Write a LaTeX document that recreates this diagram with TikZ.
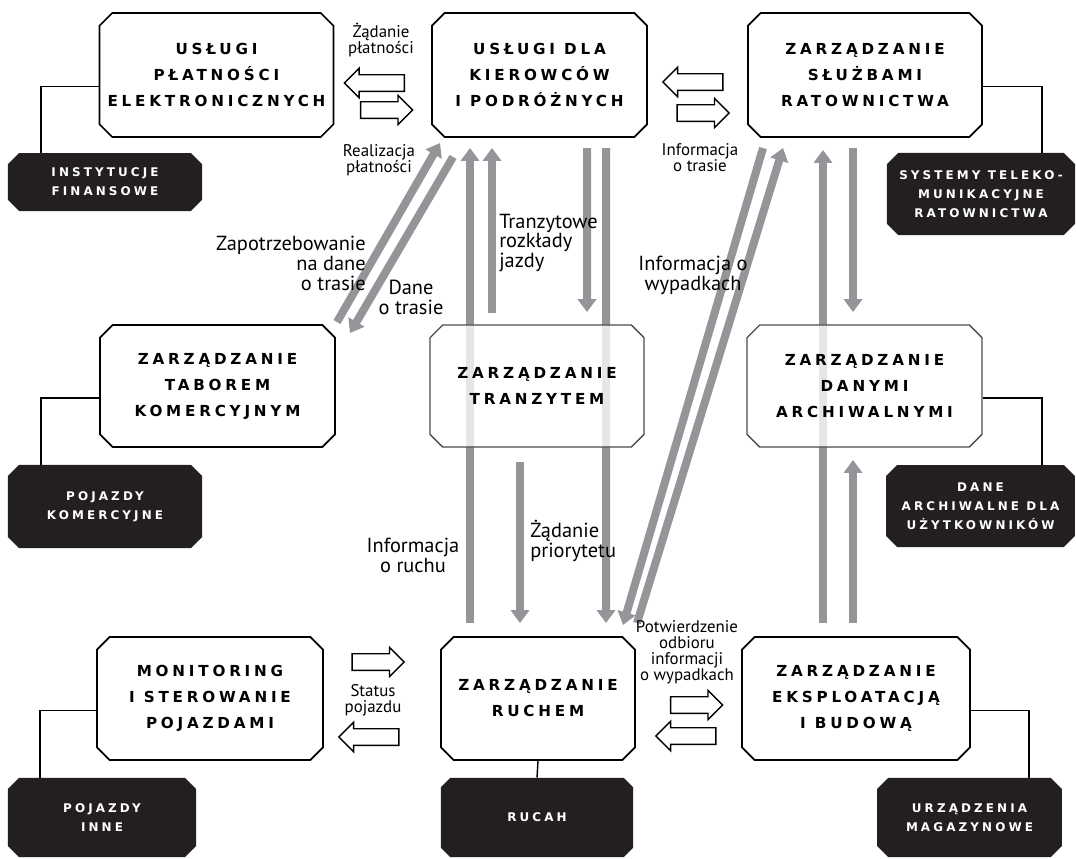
\documentclass[tikz,border=0pt]{standalone}
\usepackage{fontspec}
\setmainfont{PT Sans}
\newfontfamily\boxfont[LetterSpace=25]{DejaVu Sans}
\newfontfamily\tabfont[LetterSpace=26]{DejaVu Sans}
\usetikzlibrary{shapes,arrows.meta,positioning,calc,backgrounds}
\definecolor{flowgray}{RGB}{147,149,152}
\definecolor{tabblack}{RGB}{35,31,32}
\tikzstyle{box} = [chamfered rectangle, chamfered rectangle xsep=0.2cm, draw=black, line width=1.2pt, fill=white, align=center, inner sep=0pt, font=\boxfont\bfseries\fontsize{10.8}{18.5}\selectfont]
\tikzstyle{softbox} = [box, draw=black!70, line width=0.9pt, fill opacity=0.77, text opacity=1]
\tikzstyle{tab} = [chamfered rectangle, chamfered rectangle xsep=0.16cm, fill=tabblack, text=white, align=center, inner sep=0pt, font=\tabfont\bfseries\fontsize{8.5}{13.5}\selectfont]
\tikzstyle{link} = [draw=black, line width=1pt]
\tikzstyle{flow} = [draw=flowgray, line width=0.2cm, -{Triangle[width=0.45cm,length=0.32cm]}]
\tikzstyle{hollow} = [single arrow, draw=black, fill=white, line width=1pt, single arrow head extend=0.16cm, inner xsep=0pt, inner ysep=0.19cm]
\tikzstyle{lbl} = [align=center, inner sep=0pt, font=\fontsize{14.5}{14.2}\selectfont]
\tikzstyle{small} = [align=center, inner sep=0pt, font=\fontsize{12}{11.4}\selectfont]

\begin{document}
\begin{tikzpicture}[x=0.025cm, y=-0.025cm]
  \useasboundingbox (0,0) rectangle (1076,858);

  \node (Platnosci) [box, minimum width=5.825cm, minimum height=3.1cm] at (216.5,75) {USŁUGI\\PŁATNOŚCI\\ELEKTRONICZNYCH};
  \node (Kierowcy) [box, minimum width=5.375cm, minimum height=3.1cm] at (539.5,75) {USŁUGI DLA\\KIEROWCÓW\\I PODRÓŻNYCH};
  \node (Ratownictwo) [box, minimum width=5.85cm, minimum height=3.1cm] at (865,75) {ZARZĄDZANIE\\SŁUŻBAMI\\RATOWNICTWA};
  \node (Tabor) [box, minimum width=5.875cm, minimum height=3.05cm] at (217.5,386) {ZARZĄDZANIE\\TABOREM\\KOMERCYJNYM};
  \node (Tranzyt) [softbox, minimum width=5.35cm, minimum height=3.05cm] at (537,386) {ZARZĄDZANIE\\TRANZYTEM};
  \node (Archiwum) [softbox, minimum width=5.875cm, minimum height=3.05cm] at (864.5,386) {ZARZĄDZANIE\\DANYMI\\ARCHIWALNYMI};
  \node (Monitoring) [box, minimum width=5.65cm, minimum height=3.075cm] at (210,698.5) {MONITORING\\I STEROWANIE\\POJAZDAMI};
  \node (Ruch) [box, minimum width=4.85cm, minimum height=3.075cm] at (538,698.5) {ZARZĄDZANIE\\RUCHEM};
  \node (Budowa) [box, minimum width=5.7cm, minimum height=3.075cm] at (856,698.5) {ZARZĄDZANIE\\EKSPLOATACJĄ\\I BUDOWĄ};

  \node (Instytucje) [tab, minimum width=4.85cm, minimum height=1.45cm] at (105,182) {INSTYTUCJE\\FINANSOWE};
  \node (Telekom) [tab, minimum width=4.7cm, minimum height=2.05cm] at (981,194) {SYSTEMY TELEKO-\\MUNIKACYJNE\\RATOWNICTWA};
  \node (PojKom) [tab, minimum width=4.85cm, minimum height=2.08cm] at (105,506.5) {POJAZDY\\KOMERCYJNE};
  \node (DaneArch) [tab, minimum width=4.72cm, minimum height=2.05cm] at (980.5,506) {DANE\\ARCHIWALNE DLA\\UŻYTKOWNIKÓW};
  \node (PojInne) [tab, minimum width=4.7cm, minimum height=1.98cm] at (102,817.5) {POJAZDY\\INNE};
  \node (Rucah) [tab, minimum width=4.8cm, minimum height=1.98cm] at (537,817.5) {RUCAH};
  \node (Magazyny) [tab, minimum width=4.62cm, minimum height=1.98cm] at (969.5,817.5) {URZĄDZENIA\\MAGAZYNOWE};

  \draw[link] ([yshift=-0.28cm]Platnosci.west) -| ([xshift=-1.6cm]Instytucje.north);
  \draw[link] ([yshift=-0.28cm]Ratownictwo.east) -| ([xshift=1.525cm]Telekom.north);
  \draw[link] ([yshift=-0.3cm]Tabor.west) -| ([xshift=-1.6cm]PojKom.north);
  \draw[link] ([yshift=-0.3cm]Archiwum.east) -| ([xshift=1.54cm]DaneArch.north);
  \draw[link] ([yshift=-0.3cm]Monitoring.west) -| ([xshift=-1.55cm]PojInne.north);
  \draw[link] ([yshift=-0.3cm]Budowa.east) -| ([xshift=1.49cm]Magazyny.north);
  \draw[link] (Ruch.south) -- (Rucah.north);

  \begin{scope}[on background layer]
    \draw[flow] ($(Ruch.center)+(-68,-75.5)$) -- ($(Kierowcy.center)+(-69.5,73)$);
    \draw[flow] ($(Tranzyt.center)+(-45,-73)$) -- ($(Kierowcy.center)+(-47.5,73)$);
    \draw[flow] ($(Kierowcy.center)+(47.5,73)$) -- ($(Tranzyt.center)+(50,-74)$);
    \draw[flow] ($(Kierowcy.center)+(66.5,73)$) -- ($(Ruch.center)+(68,-75.5)$);
    \draw[flow] ($(Tranzyt.center)+(-17,76)$) -- ($(Ruch.center)+(-18,-75.5)$);
    \draw[flow] ($(Tabor.center)+(119.5,-64)$) -- ($(Kierowcy.center)+(-99.5,68)$);
    \draw[flow] ($(Kierowcy.center)+(-86.5,82)$) -- ($(Tabor.center)+(132.5,-53)$);
    \draw[flow] ($(Ruch.center)+(99,-75.5)$) -- ($(Ratownictwo.center)+(-82,73)$);
    \draw[flow] ($(Ratownictwo.center)+(-102,73)$) -- ($(Ruch.center)+(85,-73.5)$);
    \draw[flow] ($(Budowa.center)+(-33,-75.5)$) -- ($(Ratownictwo.center)+(-42,75)$);
    \draw[flow] ($(Ratownictwo.center)+(-12,73)$) -- ($(Archiwum.center)+(-11.5,-74)$);
    \draw[flow] ($(Budowa.center)+(-3,-75.5)$) -- ($(Archiwum.center)+(-11.5,74)$);
  \end{scope}

  \node (ReqPay) [hollow, minimum height=1.5cm, shape border rotate=180] at (378.5,83) {};
  \node (DonePay) [hollow, minimum height=1.3cm] at (382.5,110) {};
  \node (RouteIn) [hollow, minimum height=1.5cm, shape border rotate=180] at (697,82) {};
  \node (RouteOut) [hollow, minimum height=1.3cm] at (699,113) {};
  \node (StatusIn) [hollow, minimum height=1.3cm] at (374,662) {};
  \node (StatusOut) [hollow, minimum height=1.5cm, shape border rotate=180] at (373,737) {};
  \node (AckOut) [hollow, minimum height=1.3cm] at (692.5,705) {};
  \node (AckIn) [hollow, minimum height=1.5cm, shape border rotate=180] at (690,736) {};

  \node (lReqPay) [small] at (381,40) {Żądanie\\płatności};
  \node (lDonePay) [small] at (379,160) {Realizacja\\płatności};
  \node (lRoute) [small] at (700,158) {Informacja\\o trasie};
  \node (lStatus) [small] at (373,700) {Status\\pojazdu};
  \node (lAck) [small] at (687,652) {Potwierdzenie\\odbioru\\informacji\\o wypadkach};
  \node (lNeed) [lbl, align=right, anchor=east] at (366,263) {Zapotrzebowanie\\na dane\\o trasie};
  \node (lData) [lbl] at (411,297) {Dane\\o trasie};
  \node (lTimes) [lbl, align=left, anchor=west] at (499,243) {Tranzytowe\\rozkłady\\jazdy};
  \node (lCrash) [lbl] at (693,275) {Informacja o\\wypadkach};
  \node (lTraffic) [lbl] at (413,555) {Informacja\\o ruchu};
  \node (lPrio) [lbl, align=left, anchor=west] at (530,541) {Żądanie\\priorytetu};
\end{tikzpicture}
\end{document}
